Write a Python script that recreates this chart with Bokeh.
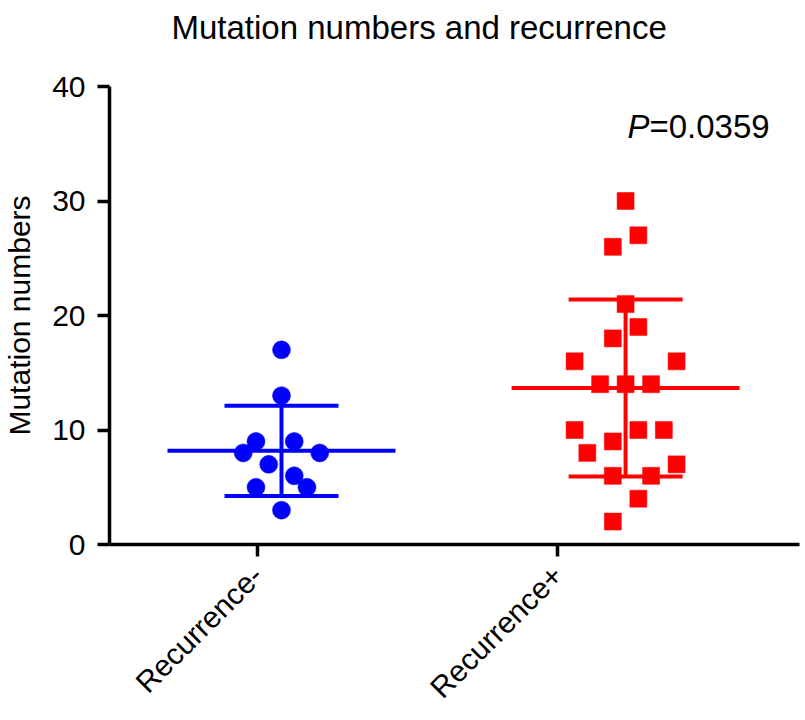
import numpy as np
from bokeh.plotting import figure
from bokeh.models import Range1d, FixedTicker, Label, ColumnDataSource
from bokeh.embed import file_html
from bokeh.resources import INLINE

# ---------------- data ----------------
categories = ["Recurrence-", "Recurrence+"]
category_ticks = [1, 2]
group_centers = [1.08, 2.227]          # where each group's scatter is centred
y_ticks = [0, 10, 20, 30, 40]

neg_values = [17, 13, 9, 9, 8, 8, 7, 6, 5, 5, 3]
neg_cols = [0, 0, -2, 1, -3, 3, -1, 1, -2, 2, 0]     # beeswarm column index

pos_values = [30, 27, 26, 21, 19, 18, 16, 16, 14, 14, 14, 10, 10, 10, 9, 8, 7, 6, 6, 4, 2]
pos_cols = [0, 1, -1, 0, 1, -1, -4, 4, -2, 0, 2, -4, 1, 3, -1, -3, 4, -1, 2, 1, -1]

title_text = "Mutation numbers and recurrence"
p_value_text = "0.0359"
p_value_pos = (2.233, 36.5)

# ---------------- styling ----------------
FONT = "Liberation Sans"
BLUE = "#0000FF"
RED = "#FF0000"
COL_STEP = 0.0425
MEAN_HALF = 0.38
CAP_HALF = 0.19
LW = 4

p = figure(width=800, height=718, output_backend="svg", toolbar_location=None,
           x_range=Range1d(0.5067, 2.8067), y_range=Range1d(0, 40),
           min_border_left=109, min_border_right=1, min_border_top=86,
           min_border_bottom=174)

p.title.text = title_text + "\n "
p.title.text_font = FONT
p.title.text_font_size = "33px"
p.title.text_font_style = "normal"
p.title.text_color = "black"
p.title.align = "left"
p.title.offset = 62
p.title.standoff = 8

p.outline_line_color = None
p.xgrid.visible = False
p.ygrid.visible = False
p.background_fill_color = "white"
p.border_fill_color = "white"

groups = [
    (neg_values, neg_cols, group_centers[0], BLUE, "circle", 18),
    (pos_values, pos_cols, group_centers[1], RED, "square", 17),
]

for vals, cols, cx, color, marker, size in groups:
    arr = np.array(vals, dtype=float)
    m = arr.mean()
    sd = arr.std(ddof=1)
    # mean line
    p.segment(x0=[cx - MEAN_HALF], x1=[cx + MEAN_HALF], y0=[m], y1=[m],
              line_color=color, line_width=LW, line_cap="butt")
    # vertical SD line
    p.segment(x0=[cx], x1=[cx], y0=[m - sd], y1=[m + sd],
              line_color=color, line_width=LW, line_cap="butt")
    # caps
    p.segment(x0=[cx - CAP_HALF, cx - CAP_HALF], x1=[cx + CAP_HALF, cx + CAP_HALF],
              y0=[m - sd, m + sd], y1=[m - sd, m + sd],
              line_color=color, line_width=LW, line_cap="butt")

for vals, cols, cx, color, marker, size in groups:
    src = ColumnDataSource(dict(x=[cx + c * COL_STEP for c in cols], y=vals))
    p.scatter("x", "y", source=src, marker=marker, size=size,
              fill_color=color, line_color=color, line_width=0.5)

# axes
for ax in (p.xaxis[0], p.yaxis[0]):
    ax.axis_line_width = 3.5
    ax.axis_line_color = "black"
    ax.major_tick_line_width = 3.5
    ax.major_tick_line_color = "black"
    ax.major_tick_out = 12
    ax.major_tick_in = 0
    ax.minor_tick_line_color = None
    ax.major_label_text_font = FONT
    ax.major_label_text_font_size = "30px"
    ax.major_label_text_color = "black"
    ax.axis_label_text_font = FONT
    ax.axis_label_text_font_style = "normal"
    ax.axis_label_text_color = "black"

p.yaxis.ticker = FixedTicker(ticks=y_ticks)
p.yaxis.major_label_standoff = 12
p.yaxis.axis_label = "Mutation numbers"
p.yaxis.axis_label_text_font_size = "30px"
p.yaxis.axis_label_standoff = 13

p.xaxis.ticker = FixedTicker(ticks=category_ticks)
p.xaxis.major_label_overrides = {t: c for t, c in zip(category_ticks, categories)}
p.xaxis.major_label_orientation = np.pi / 4
p.xaxis.major_label_standoff = 14

# P-value annotation
p.add_layout(Label(x=p_value_pos[0], y=p_value_pos[1], text="P",
                   text_font=FONT, text_font_size="33px", text_font_style="italic",
                   text_color="black", text_align="left", text_baseline="alphabetic"))
p.add_layout(Label(x=p_value_pos[0], y=p_value_pos[1], x_offset=22,
                   text="=" + p_value_text,
                   text_font=FONT, text_font_size="33px", text_font_style="normal",
                   text_color="black", text_align="left", text_baseline="alphabetic"))

open("out.html", "w").write(file_html(p, INLINE))
